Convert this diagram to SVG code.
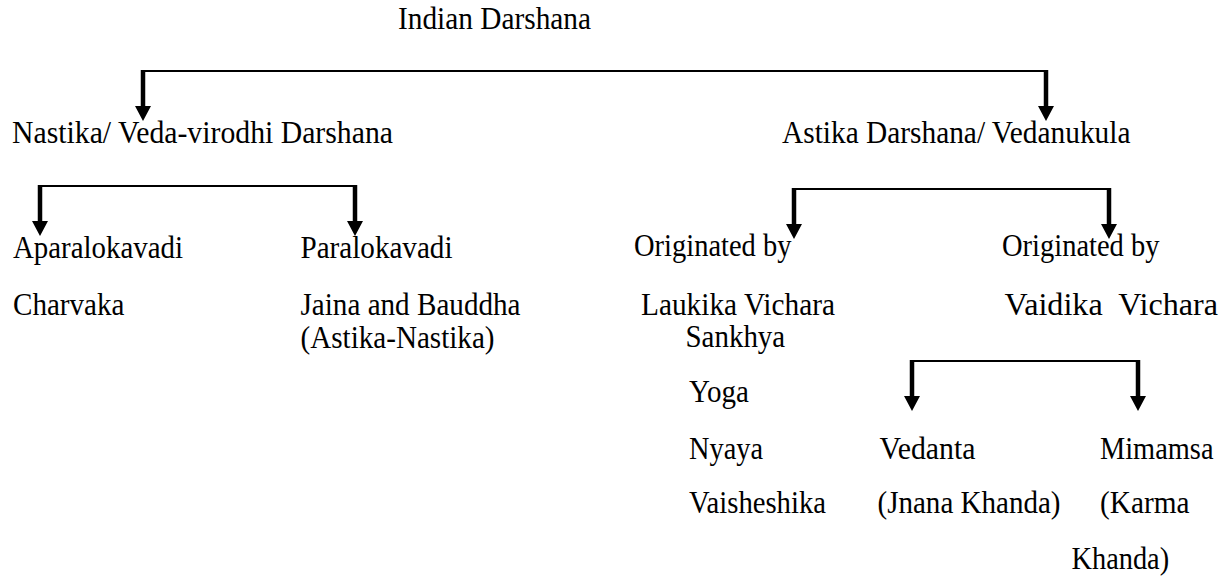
<svg xmlns="http://www.w3.org/2000/svg" width="1228" height="581" viewBox="0 0 1228 581">
  <style>
    text { font-family: "Liberation Serif", "Times New Roman", serif; font-size: 31px; fill: #000; }
    .h { stroke: #000; stroke-width: 2; fill: none; }
    .v { stroke: #000; stroke-width: 4.5; fill: none; }
    .ah { fill: #000; }
  </style>
  <defs>
    <path id="head" class="ah" d="M-8,-15 L8,-15 L0,0 Z"/>
  </defs>
  <rect width="1228" height="581" fill="#fff"/>

  <g id="connectors">
    <!-- Indian Darshana split -->
    <path class="h" d="M143,71 H1046"/>
    <path class="v" d="M143,70 V107"/>
    <path class="v" d="M1046,70 V107"/>
    <use href="#head" x="143" y="121"/>
    <use href="#head" x="1046" y="121"/>
    <!-- Nastika split -->
    <path class="h" d="M40,186 H355"/>
    <path class="v" d="M40,185 V222"/>
    <path class="v" d="M355,185 V222"/>
    <use href="#head" x="40" y="236"/>
    <use href="#head" x="355" y="236"/>
    <!-- Astika split -->
    <path class="h" d="M794,189 H1109"/>
    <path class="v" d="M794,188 V225"/>
    <path class="v" d="M1109,188 V225"/>
    <use href="#head" x="794" y="239"/>
    <use href="#head" x="1109" y="239"/>
    <!-- Vaidika split -->
    <path class="h" d="M912,361 H1138"/>
    <path class="v" d="M912,360 V397"/>
    <path class="v" d="M1138,360 V397"/>
    <use href="#head" x="912" y="411"/>
    <use href="#head" x="1138" y="411"/>
  </g>

  <g id="n-root"><text x="398" y="28.5" textLength="193" lengthAdjust="spacingAndGlyphs">Indian Darshana</text></g>
  <g id="n-nastika"><text x="12" y="143" textLength="381" lengthAdjust="spacingAndGlyphs">Nastika/ Veda-virodhi Darshana</text></g>
  <g id="n-astika"><text x="782" y="143" textLength="348.5" lengthAdjust="spacingAndGlyphs">Astika Darshana/ Vedanukula</text></g>

  <g id="n-aparalokavadi">
    <text x="13" y="258" textLength="170" lengthAdjust="spacingAndGlyphs">Aparalokavadi</text>
    <text x="13" y="315" textLength="111.5" lengthAdjust="spacingAndGlyphs">Charvaka</text>
  </g>
  <g id="n-paralokavadi">
    <text x="300.5" y="258" textLength="152" lengthAdjust="spacingAndGlyphs">Paralokavadi</text>
    <text x="300.5" y="315" textLength="220" lengthAdjust="spacingAndGlyphs">Jaina and Bauddha</text>
    <text x="300.5" y="348" textLength="194" lengthAdjust="spacingAndGlyphs">(Astika-Nastika)</text>
  </g>

  <g id="n-laukika">
    <text x="634" y="256" textLength="157.5" lengthAdjust="spacingAndGlyphs">Originated by</text>
    <text x="641" y="315" textLength="194" lengthAdjust="spacingAndGlyphs">Laukika Vichara</text>
    <text x="685.5" y="347" textLength="99.7" lengthAdjust="spacingAndGlyphs">Sankhya</text>
    <text x="689" y="402" textLength="60" lengthAdjust="spacingAndGlyphs">Yoga</text>
    <text x="689" y="458.5" textLength="74" lengthAdjust="spacingAndGlyphs">Nyaya</text>
    <text x="689" y="513" textLength="137" lengthAdjust="spacingAndGlyphs">Vaisheshika</text>
  </g>
  <g id="n-vaidika">
    <text x="1002" y="256" textLength="157.5" lengthAdjust="spacingAndGlyphs">Originated by</text>
    <text x="1004.5" y="314.5" textLength="213.5" lengthAdjust="spacingAndGlyphs" xml:space="preserve">Vaidika  Vichara</text>
  </g>

  <g id="n-vedanta">
    <text x="879.5" y="458.5" textLength="96" lengthAdjust="spacingAndGlyphs">Vedanta</text>
    <text x="877.5" y="513" textLength="183" lengthAdjust="spacingAndGlyphs">(Jnana Khanda)</text>
  </g>
  <g id="n-mimamsa">
    <text x="1100" y="458.5" textLength="113.5" lengthAdjust="spacingAndGlyphs">Mimamsa</text>
    <text x="1100" y="513" textLength="89.5" lengthAdjust="spacingAndGlyphs">(Karma</text>
    <text x="1071.5" y="568.5" textLength="97.6" lengthAdjust="spacingAndGlyphs">Khanda)</text>
  </g>
</svg>
